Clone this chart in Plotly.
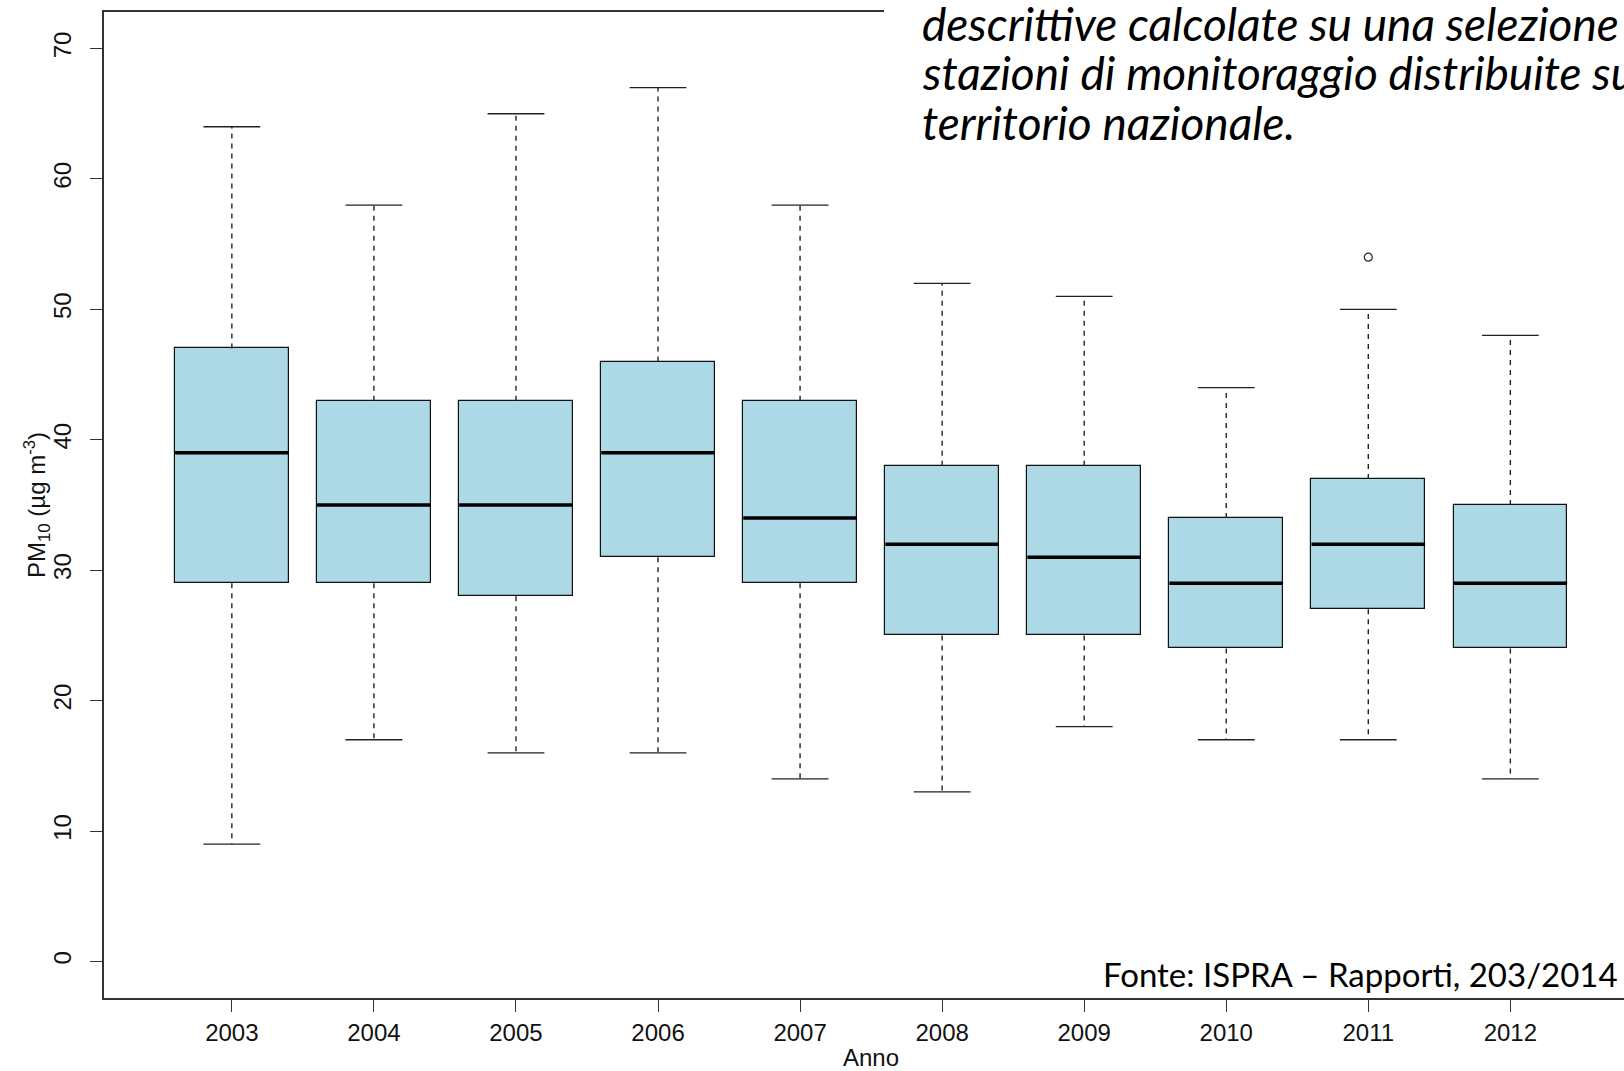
import plotly.graph_objects as go

# PM10 annual distributions (µg/m3) per year
years = ["2003", "2004", "2005", "2006", "2007", "2008", "2009", "2010", "2011", "2012"]
lower_whisker = [9, 17, 16, 16, 14, 13, 18, 17, 17, 14]
q1 = [29, 29, 28, 31, 29, 25, 25, 24, 27, 24]
median = [39, 35, 35, 39, 34, 32, 31, 29, 32, 29]
q3 = [47, 43, 43, 46, 43, 38, 38, 34, 37, 35]
upper_whisker = [64, 58, 65, 67, 58, 52, 51, 44, 50, 48]
outlier_years = ["2011"]
outlier_values = [54]

y_ticks = [0, 10, 20, 30, 40, 50, 60, 70]

pos = list(range(1, len(years) + 1))
box_half = 0.4
cap_half = 0.2

W, H = 1624, 1071
M_L, M_R, M_T, M_B = 104, 0, 12, 73
plot_w = W - M_L - M_R
plot_h = H - M_T - M_B

def px_x(p):
    return (p - M_L) / plot_w

def px_y(p):
    return (H - M_B - p) / plot_h

fig = go.Figure()

# box bodies
fig.add_trace(go.Bar(
    x=pos, y=[b - a for a, b in zip(q1, q3)], base=q1, width=2 * box_half,
    marker=dict(color="#ADD8E6", line=dict(color="#111111", width=1.2)),
    hoverinfo="skip", showlegend=False,
))

# dashed whiskers
wx, wy = [], []
for p, lo, a, b, hi in zip(pos, lower_whisker, q1, q3, upper_whisker):
    wx += [p, p, None, p, p, None]
    wy += [b, hi, None, a, lo, None]
fig.add_trace(go.Scatter(x=wx, y=wy, mode="lines",
                         line=dict(color="#222222", width=1.4, dash="5px,5px"),
                         hoverinfo="skip", showlegend=False))

# whisker caps
cx, cy = [], []
for p, lo, hi in zip(pos, lower_whisker, upper_whisker):
    cx += [p - cap_half, p + cap_half, None, p - cap_half, p + cap_half, None]
    cy += [hi, hi, None, lo, lo, None]
fig.add_trace(go.Scatter(x=cx, y=cy, mode="lines",
                         line=dict(color="#222222", width=1.3),
                         hoverinfo="skip", showlegend=False))

# medians
mx, my = [], []
for p, m in zip(pos, median):
    mx += [p - box_half, p + box_half, None]
    my += [m, m, None]
fig.add_trace(go.Scatter(x=mx, y=my, mode="lines",
                         line=dict(color="#000000", width=3.5),
                         hoverinfo="skip", showlegend=False))

# outliers
fig.add_trace(go.Scatter(
    x=[years.index(y) + 1 for y in outlier_years], y=outlier_values, mode="markers",
    marker=dict(symbol="circle-open", size=8, color="#222222", line=dict(width=1.2)),
    hoverinfo="skip", showlegend=False,
))

axis_font = dict(family="Liberation Sans, Arial, sans-serif", size=24, color="#111111")

fig.update_layout(
    width=W, height=H,
    margin=dict(l=M_L, r=M_R, t=M_T, b=M_B),
    paper_bgcolor="white", plot_bgcolor="white",
    bargap=0,
    xaxis=dict(
        range=[0.1, 10.8], tickmode="array", tickvals=pos, ticktext=years,
        ticks="outside", ticklen=12, tickwidth=1.3, tickcolor="#333333",
        showline=True, linecolor="#333333", linewidth=1.5, mirror=True,
        showgrid=False, zeroline=False, tickfont=axis_font,
    ),
    yaxis=dict(
        range=[-2.8, 72.8], tickmode="array", tickvals=y_ticks,
        ticks="outside", ticklen=12, tickwidth=1.3, tickcolor="#333333",
        showline=True, linecolor="#333333", linewidth=1.5,
        showgrid=False, zeroline=False, tickfont=axis_font, tickangle=-90,
        ticklabelstandoff=10,
    ),
)

# axis titles
fig.add_annotation(
    xref="paper", yref="paper", x=px_x(37), y=0.5, textangle=-90,
    text="PM<sub>10</sub> (µg m<sup>-3</sup>)", showarrow=False,
    font=axis_font, xanchor="center", yanchor="middle",
)
fig.add_annotation(
    xref="x", yref="paper", x=5.5, y=px_y(1057),
    text="Anno", showarrow=False, font=axis_font,
    xanchor="center", yanchor="middle",
)

# white panel behind the caption in the upper right
fig.add_shape(type="rect", xref="paper", yref="paper", layer="above",
              x0=px_x(884), x1=px_x(W + 10), y0=px_y(150), y1=px_y(-5),
              fillcolor="white", line=dict(width=0))

caption_font = dict(family="Lato, Open Sans, sans-serif", size=46, color="#000000")
caption_lines = [
    "descrittive calcolate su una selezione di",
    "stazioni di monitoraggio distribuite sul",
    "territorio nazionale.",
]
for i, line in enumerate(caption_lines):
    fig.add_annotation(
        xref="paper", yref="paper", x=px_x(920), y=px_y(23 + 49.5 * i),
        text="<i>" + line + "</i>", showarrow=False, font=caption_font,
        xanchor="left", yanchor="middle", align="left",
    )

fig.add_annotation(
    xref="paper", yref="paper", x=px_x(1620), y=px_y(974),
    text="Fonte: ISPRA – Rapporti, 203/2014", showarrow=False,
    font=dict(family="Lato, Open Sans, sans-serif", size=33, color="#000000"),
    xanchor="right", yanchor="middle",
)

fig.write_html("out.html")
